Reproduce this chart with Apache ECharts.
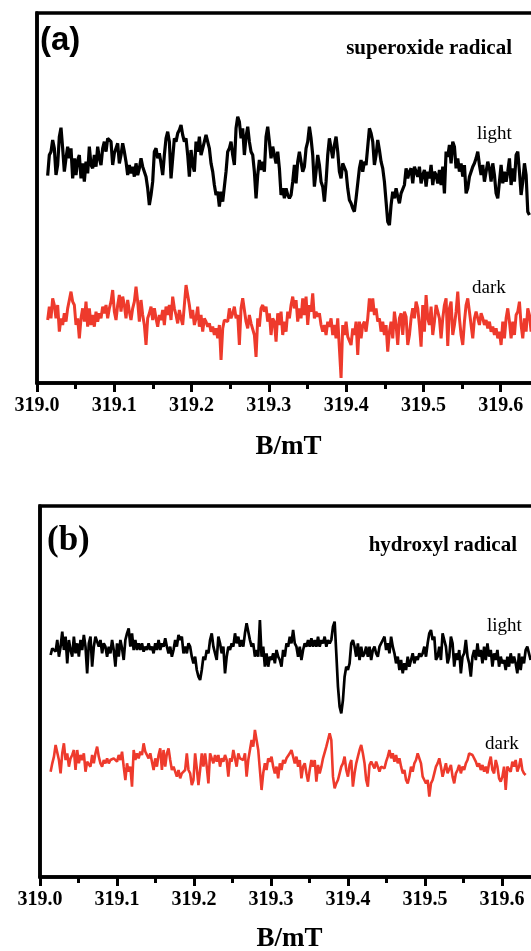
<!DOCTYPE html>
<html>
<head>
<meta charset="utf-8">
<script src="https://cdn.jsdelivr.net/npm/echarts@6/dist/echarts.min.js"></script>
<style>html,body{margin:0;padding:0;background:#fff}#c{width:531px;height:951px}</style>
</head>
<body>
<div id="c"></div>
<script>
// EPR field sweep (B in mT), uniformly sampled
const FIELD_START = 319.0138;
const FIELD_STEP = 0.002157;
const xTicks = [319.0, 319.1, 319.2, 319.3, 319.4, 319.5, 319.6, 319.7];

// (a) superoxide radical — intensities (a.u.)
const lightA = [-32,30,40,75,50,-30,0,85,112,50,-20,20,55,20,50,-40,20,-30,15,30,-40,5,-50,10,-25,55,0,-10,30,-5,55,20,0,50,70,40,80,85,70,0,35,50,65,5,30,65,40,10,-30,0,-25,-5,-35,5,-30,-10,20,-5,-10,-35,-70,-120,-90,-50,40,50,20,35,5,-30,30,80,100,70,-40,20,80,70,95,105,120,90,70,80,30,-35,45,0,-20,70,40,85,30,50,70,90,95,50,5,-20,-60,-90,-80,-125,-80,-110,-65,-20,40,50,70,30,0,110,145,130,80,110,30,85,115,70,40,30,-20,-100,-30,15,-15,10,-20,85,115,70,20,55,60,5,40,
-10,-90,-70,-100,-70,-90,-100,-90,-50,0,-55,10,40,45,-20,-5,50,70,115,80,30,-65,-20,30,0,-50,-65,-110,-50,30,80,50,20,60,85,40,-20,-40,5,0,-20,-70,-105,-115,-130,-140,-100,-100,-10,15,-20,10,0,-5,110,95,70,0,30,75,45,10,-10,-50,-110,-170,-180,-120,-80,-100,-70,-95,-115,-85,-90,-60,-10,-40,-20,-10,-55,-5,-20,-35,-5,-55,-30,-15,-65,-20,-40,0,-60,-20,-30,-55,-15,-60,-5,-85,40,25,60,5,70,55,-10,20,-20,5,-35,0,-85,-70,-35,-20,-5,5,20,40,0,-30,0,-50,-20,10,-10,-50,5,-30,-85,-100,-50,0,-55,-20,-50,-20,20,-60,-10,-50,30,40,-20,-90,-50,5,-30,-140,-150];
const darkA = [-15,25,-10,50,30,-10,30,-50,-10,-30,5,-20,20,45,70,40,30,-30,-10,-70,-10,20,-20,40,-35,20,-30,0,-35,10,-20,5,-10,25,5,30,-10,20,40,75,10,-15,30,60,10,55,30,-10,45,10,-15,20,40,85,40,-20,45,0,-30,-90,-10,5,25,-15,20,-10,-35,0,-15,15,-30,25,0,30,-15,55,20,0,-25,15,-10,-30,30,90,60,30,-10,15,-30,-10,25,-35,0,-50,-10,-20,-35,-25,-50,-35,-60,-40,-70,-30,-135,-40,-15,-10,-20,20,-10,5,25,-10,0,-90,20,50,15,-20,-40,0,-25,-30,-60,-126,-10,-35,20,30,10,25,-20,5,-60,-10,-20,-80,5,
-30,10,-60,-20,-50,10,-10,30,55,20,45,-20,20,-10,50,0,55,-30,30,10,65,-10,10,-5,5,-30,-50,-30,-60,-20,-35,-10,-60,-30,-70,-10,-100,-189,-30,-60,-20,-65,-60,-90,-40,-60,-20,-120,-20,-70,-30,-20,-50,-10,50,10,50,0,20,-20,-10,-50,-20,-60,-30,-110,-50,-20,-70,10,-30,-90,-10,5,-60,10,-5,-90,-60,-10,20,-10,40,20,-30,-95,30,-50,60,-10,-30,25,-60,-20,30,10,-10,-70,-10,30,50,-93,20,40,-60,-30,10,70,-10,-60,-90,-20,30,50,10,-30,-70,-10,10,-10,-30,5,-10,-30,-15,-40,-20,-50,-35,-60,-40,-70,-50,-90,-20,-70,-10,20,-20,-70,-20,-60,0,10,40,-30,-70,-10,-50,20,0,-50];

// (b) hydroxyl radical — intensities (a.u.)
const lightB = [-15,5,10,-5,30,-20,10,55,0,40,-40,30,0,-20,40,-10,20,-20,30,0,45,10,-70,20,40,-50,10,40,25,10,30,-10,20,10,-20,10,-10,30,0,-50,20,-20,30,5,-30,30,50,65,10,50,0,30,0,20,0,20,-5,10,0,20,0,10,-10,20,0,30,0,20,10,35,10,-10,10,-20,0,30,10,45,30,40,-10,10,-10,20,10,-20,-40,-20,-60,-80,-90,-60,-20,-30,0,-10,30,50,10,10,-30,40,20,-10,10,-70,-20,10,0,20,10,50,20,40,10,30,10,50,80,85,30,10,20,-20,0,-20,
90,-20,10,-50,-10,-50,-20,-30,-10,-40,0,-20,-30,-50,0,-20,20,10,40,20,60,20,10,-20,10,-30,0,20,10,30,10,35,10,30,10,40,10,30,20,40,10,30,20,30,70,85,-10,-110,-170,-190,-150,-80,-50,-60,-40,20,30,10,-20,20,-30,10,-20,-10,10,-20,10,-30,0,10,-10,-20,10,10,30,40,0,20,-10,40,10,-10,-40,-20,-60,-30,-70,-40,-60,-20,-50,-30,-10,-40,-20,-30,-10,-20,-10,10,-20,20,50,60,30,40,-30,-20,10,-30,50,30,10,-40,-20,40,20,-50,-10,-30,0,-70,-20,-10,30,-20,-40,-80,-20,0,-30,20,-20,0,-40,10,-30,20,-20,0,-50,-10,-30,0,-50,-20,-40,-30,-60,-20,-50,-10,-40,-20,-40,-70,-10,-60,-20,-40,0,10,-10,-30];
const darkB = [-35,-10,10,45,40,0,-40,20,50,0,20,-20,5,15,30,-30,30,-10,15,0,20,-35,-5,0,-20,15,-10,20,40,10,-10,-20,0,-10,5,-10,0,-5,5,10,-5,15,0,25,-20,-60,-10,-35,-20,-80,30,0,20,5,25,15,50,25,20,5,20,-5,-30,5,-20,15,35,-30,30,-20,20,35,0,-30,-20,-35,-50,-30,-55,-40,-45,-30,20,-30,-40,-75,-60,20,-25,-75,-30,20,-20,20,-20,-70,20,5,-10,15,-5,15,-20,5,-5,15,0,-50,5,-5,30,25,-20,20,5,10,0,20,-50,0,5,60,40,90,
90,30,-30,-90,-40,-10,-30,5,-5,10,-20,-40,-20,-55,-10,-30,0,-10,5,0,20,30,10,-10,10,-20,0,-55,-20,-10,-40,-65,-30,0,-20,0,-65,-15,-40,-20,5,10,40,60,80,60,-50,-85,-70,-60,-40,-20,-10,10,-30,-50,-15,0,-80,-40,-10,10,30,45,20,-10,-60,-80,-15,-5,0,-25,-5,-10,-35,-20,-15,-25,-5,10,30,5,20,-5,15,-10,5,-20,-40,-30,-60,-70,-50,-20,-35,-10,0,20,25,-10,-50,-60,-70,-60,-110,-70,-60,-40,-20,-10,5,-20,-50,-30,-10,-40,-35,-15,-50,-70,-40,-30,-15,-40,-20,-30,-10,0,20,25,15,20,-5,-20,-10,-30,-15,-35,-20,-40,-10,10,-30,-40,0,-20,-55,-65,-50,-20,-90,-20,-15,-35,-5,-20,0,-35,-20,5,-30,-40,-45];

// vertical display offsets of stacked traces
const OFFSET_LIGHT_A = 0, OFFSET_DARK_A = -450;
const OFFSET_LIGHT_B = 0, OFFSET_DARK_B = -330;

function toSeries(vals, off) {
  return vals.map((v, i) => [FIELD_START + i * FIELD_STEP, v + off]);
}

const SERIF = '"Liberation Serif","Times New Roman",serif';
const RED = '#ee3a2c';

function xAxisFor(gi) {
  return {
    type: 'value', gridIndex: gi, min: xTicks[0], max: xTicks[xTicks.length - 1], interval: 0.1,
    axisLine: { show: true, onZero: false, lineStyle: { color: '#000', width: 3.5 } },
    axisTick: { show: true, inside: false, length: 9, lineStyle: { color: '#000', width: 3 } },
    minorTick: { show: true, splitNumber: 2, length: 6, lineStyle: { color: '#000', width: 3 } },
    splitLine: { show: false },
    axisLabel: { color: '#000', fontFamily: SERIF, fontWeight: 'bold', fontSize: 20, margin: 13,
      formatter: v => v.toFixed(1) }
  };
}
function yAxisFor(gi, mn, mx) {
  return {
    type: 'value', gridIndex: gi, min: mn, max: mx,
    axisLine: { show: true, lineStyle: { color: '#000', width: 3.5 } },
    axisTick: { show: false }, axisLabel: { show: false }, splitLine: { show: false }
  };
}
function txt(text, x, y, font, align) {
  return { type: 'text', silent: true,
    style: { text, x, y, font, fill: '#000', textAlign: align || 'left', textVerticalAlign: 'middle',
             align: align || 'left', verticalAlign: 'middle' } };
}

const chart = echarts.init(document.getElementById('c'), null, { renderer: 'canvas' });
chart.setOption({
  animation: false,
  backgroundColor: '#fff',
  grid: [
    { left: 37, top: 13, width: 541, height: 370, outerBoundsMode: 'none', containLabel: false,
      show: true, borderColor: '#000', borderWidth: 3.5, backgroundColor: 'transparent' },
    { left: 40, top: 506, width: 539, height: 371, outerBoundsMode: 'none', containLabel: false,
      show: true, borderColor: '#000', borderWidth: 3.5, backgroundColor: 'transparent' }
  ],
  xAxis: [xAxisFor(0), xAxisFor(1)],
  yAxis: [yAxisFor(0, -654, 456), yAxisFor(1, -681, 432)],
  series: [
    { type: 'line', xAxisIndex: 0, yAxisIndex: 0, data: toSeries(lightA, OFFSET_LIGHT_A), showSymbol: false, lineStyle: { color: '#000', width: 3.2 }, z: 3 },
    { type: 'line', xAxisIndex: 0, yAxisIndex: 0, data: toSeries(darkA, OFFSET_DARK_A), showSymbol: false, lineStyle: { color: RED, width: 3 }, z: 3 },
    { type: 'line', xAxisIndex: 1, yAxisIndex: 1, data: toSeries(lightB, OFFSET_LIGHT_B), showSymbol: false, lineStyle: { color: '#000', width: 2.7 }, z: 3 },
    { type: 'line', xAxisIndex: 1, yAxisIndex: 1, data: toSeries(darkB, OFFSET_DARK_B), showSymbol: false, lineStyle: { color: RED, width: 2.6 }, z: 3 }
  ],
  graphic: [
    txt('(a)', 40, 41, 'bold 33px "Liberation Sans",Arial,sans-serif'),
    txt('superoxide radical', 512, 49, 'bold 21px ' + SERIF, 'right'),
    txt('light', 477, 134, '19px ' + SERIF),
    txt('dark', 472, 288, '19px ' + SERIF),
    txt('B/mT', 288.5, 447, 'bold 27px ' + SERIF, 'center'),
    txt('(b)', 47, 541, 'bold 35px ' + SERIF),
    txt('hydroxyl radical', 517, 546, 'bold 21px ' + SERIF, 'right'),
    txt('light', 487, 626, '19px ' + SERIF),
    txt('dark', 485, 744, '19px ' + SERIF),
    txt('B/mT', 289.5, 939, 'bold 27px ' + SERIF, 'center')
  ]
});
</script>
</body>
</html>
